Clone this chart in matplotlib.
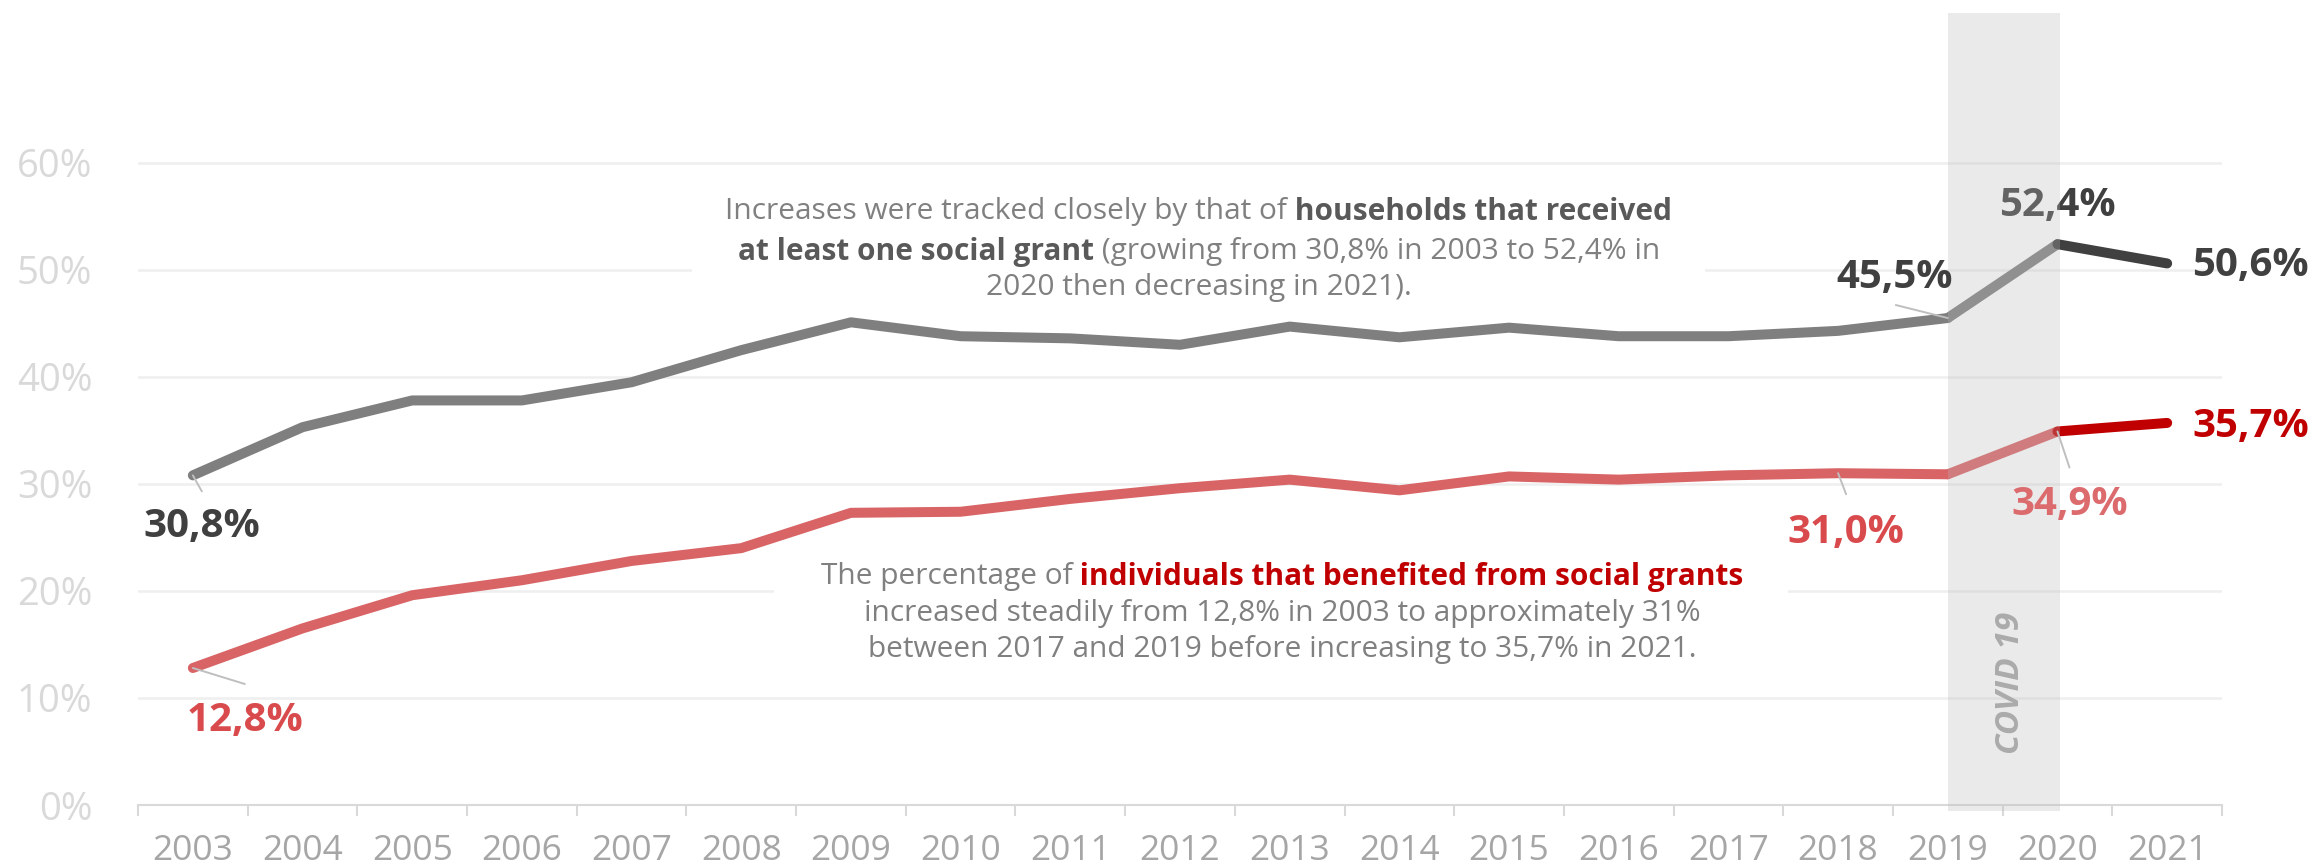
import numpy as np
import matplotlib
matplotlib.use("Agg")
import matplotlib.pyplot as plt
from matplotlib import transforms
from matplotlib.patches import Rectangle

plt.rcParams["font.family"] = ["Open Sans", "DejaVu Sans"]

years = [str(y) for y in range(2003, 2022)]
# share of households receiving at least one grant (%)
households = [30.8, 35.3, 37.8, 37.8, 39.5, 42.5, 45.1, 43.8, 43.6, 43.0,
              44.7, 43.7, 44.6, 43.8, 43.8, 44.3, 45.5, 52.4, 50.6]
# share of individuals benefiting from grants (%)
individuals = [12.8, 16.5, 19.6, 21.0, 22.8, 24.0, 27.3, 27.4, 28.6, 29.6,
               30.4, 29.4, 30.7, 30.4, 30.8, 31.0, 30.9, 34.9, 35.7]
y_ticks = [0, 10, 20, 30, 40, 50, 60]

hh = np.array(households) / 100
ind = np.array(individuals) / 100
x = np.arange(len(years))

DARK = "#404040"
GREY = "#7f7f7f"
RED_LINE = "#d96466"
RED_END = "#c00000"
RED_LABEL = "#d94a4d"
TXT = "#808080"


def pct(v):
    return f"{v * 100:.1f}".replace(".", ",") + "%"


def rich_line(ax, xc, yc, parts, size):
    # one centred line made of differently styled runs
    fig = ax.figure
    r = fig.canvas.get_renderer()
    items = []
    for s, weight, color in parts:
        t = ax.text(xc, yc, s, fontsize=size, fontweight=weight, color=color,
                    ha="left", va="center", zorder=5)
        items.append(t)
    widths = [t.get_window_extent(r).width for t in items]
    left = -sum(widths) / 2
    for t, w in zip(items, widths):
        t.set_transform(transforms.offset_copy(ax.transData, fig=fig, x=left, y=0, units="dots"))
        left += w


fig = plt.figure(figsize=(23.21, 8.67), dpi=100)
ax = fig.add_axes([138 / 2321, 62 / 867, 2084 / 2321, 792 / 867])
ax.set_xlim(-0.5, 18.5)
ax.set_ylim(0, 0.74)

# grid and axes
ax.set_yticks([v / 100 for v in y_ticks], labels=[f"{v}%" for v in y_ticks])
ax.yaxis.grid(True, color="#efefef", lw=1.8)
ax.set_axisbelow(True)
ax.tick_params(axis="y", length=0, pad=33, labelsize=27.5, labelcolor="#d9d9d9")
ax.set_xticks(np.arange(-0.5, 19, 1))
ax.set_xticks(x, labels=years, minor=True)
ax.tick_params(axis="x", which="major", length=8, width=1.5, color="#d9d9d9", labelbottom=False)
ax.tick_params(axis="x", which="minor", length=0, pad=21, labelsize=25.5, labelcolor="#a6a6a6")
for s in ["left", "top", "right"]:
    ax.spines[s].set_visible(False)
ax.spines["bottom"].set_color("#d9d9d9")
ax.spines["bottom"].set_linewidth(1.5)

# white panels behind the commentary
ax.add_patch(Rectangle((4.55, 0.472), 9.24, 0.107, facecolor="white", edgecolor="none", zorder=1))
ax.add_patch(Rectangle((5.30, 0.124), 9.24, 0.110, facecolor="white", edgecolor="none", zorder=1))

# series, split into pre-covid / covid / latest year
segs = [(0, 17), (16, 18), (17, 19)]
for (a, b), c in zip(segs, [GREY, GREY, DARK]):
    ax.plot(x[a:b], hh[a:b], color=c, lw=7.2, solid_capstyle="round", solid_joinstyle="round", zorder=3)
for (a, b), c in zip(segs, [RED_LINE, RED_LINE, RED_END]):
    ax.plot(x[a:b], ind[a:b], color=c, lw=7.2, solid_capstyle="round", solid_joinstyle="round", zorder=3)

# value labels: (series, index, label offset px, leader end px or None, colour, zorder)
labels = [
    (hh, 0, (9, -51), (9, -16), DARK, 5),
    (hh, 16, (-53, 41), (-52, 13), DARK, 5),
    (hh, 17, (0, 39), None, DARK, 3.5),
    (ind, 0, (52, -52), (52, -16), RED_LABEL, 5),
    (ind, 15, (8, -59), (8, -21), RED_LABEL, 5),
    (ind, 17, (12, -73), (12, -36), "#dc6b6e", 5),
]
for ser, i, off, lead, col, z in labels:
    if lead is not None:
        ax.annotate("", xy=(i, ser[i]), xytext=lead, textcoords="offset pixels",
                    arrowprops=dict(arrowstyle="-", color="#bfbfbf", lw=1.4, shrinkA=0, shrinkB=0),
                    zorder=z)
    ax.annotate(pct(ser[i]), xy=(i, ser[i]), xytext=off, textcoords="offset pixels",
                ha="center", va="center", fontsize=29, fontweight="bold", color=col, zorder=z)

ax.annotate(pct(hh[18]), xy=(18, hh[18]), xytext=(25, -2), textcoords="offset pixels",
            ha="left", va="center", fontsize=29, fontweight="bold", color=DARK,
            annotation_clip=False, zorder=5)
ax.annotate(pct(ind[18]), xy=(18, ind[18]), xytext=(25, -4), textcoords="offset pixels",
            ha="left", va="center", fontsize=29, fontweight="bold", color=RED_END,
            annotation_clip=False, zorder=5)

# covid band on top so it tints what lies under it
ax.axvspan(16, 17.02, ymin=-0.008, ymax=1, color="#bababa", alpha=0.29, lw=0, zorder=4, clip_on=False)
ax.text(16.57, 0.114, "COVID 19", rotation=90, ha="center", va="center", fontsize=24,
        fontweight="bold", fontstyle="italic", color="#ababab", zorder=6)

# commentary
fs = 21.5
rich_line(ax, 9.17, 0.5545, [("Increases were tracked closely by that of", "normal", TXT),
                             (" households that received", "bold", "#595959")], fs)
rich_line(ax, 9.17, 0.517, [("at least one social grant", "bold", "#595959"),
                            (" (growing from 30,8% in 2003 to 52,4% in", "normal", TXT)], fs)
rich_line(ax, 9.17, 0.4832, [("2020 then decreasing in 2021).", "normal", TXT)], fs)

rich_line(ax, 9.93, 0.2131, [("The percentage of", "normal", TXT),
                             (" individuals that benefited from social grants", "bold", RED_END)], fs)
rich_line(ax, 9.93, 0.1785, [("increased steadily from 12,8% in 2003 to approximately 31%", "normal", TXT)], fs)
rich_line(ax, 9.93, 0.1449, [("between 2017 and 2019 before increasing to 35,7% in 2021.", "normal", TXT)], fs)

fig.savefig("out.png", dpi=100, facecolor="white")
